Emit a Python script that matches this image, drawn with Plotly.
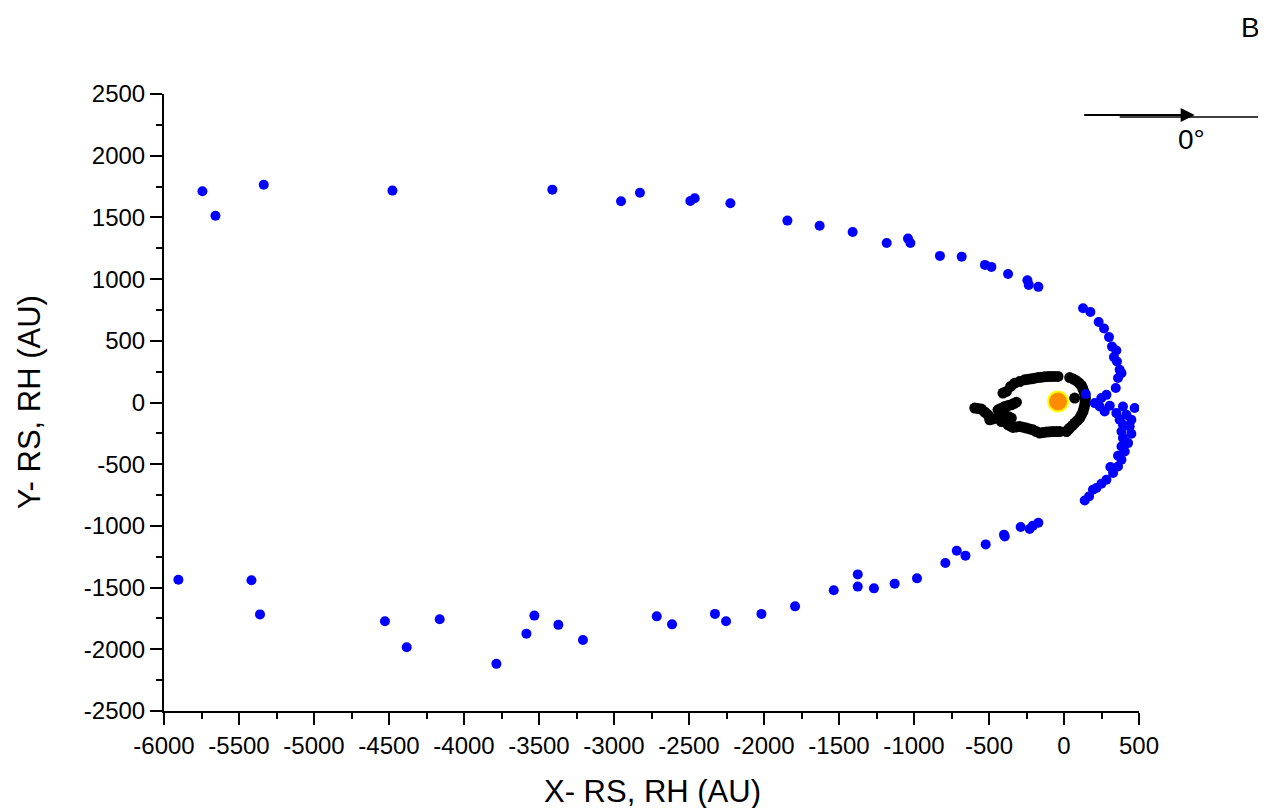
import plotly.graph_objects as go

# Blue points (X, Y in AU)
blue_x = [-5744, -5657, -5335, -4477, -3411, -2953, -2827, -2491, -2462, -2224,
          -1844, -1629, -1409, -1182, -1040, -1024, -827, -682, -527, -484,
          -373, -244, -235, -171,
          127, 176, 231, 267, 300, 320, 349, 333, 353, 371, 383, 360, 345, 145,
          283, 249, 205, 238, 305, 393, 471, 271, 349, 416, 371, 449, 393, 438,
          383, 449, 393, 427, 383, 405, 360, 383, 360, 309, 327, 283, 249, 216,
          193, 167, 138,
          -171, -207, -229, -289, -395, -400, -522, -657, -715, -791, -980,
          -1129, -1267, -1375, -1375, -1535, -1793, -2017, -2253, -2327, -2613,
          -2715,
          -5904, -5417, -5360, -4527, -4382, -4162, -3784, -3584, -3531, -3371,
          -3207]
blue_y = [1712, 1514, 1765, 1717, 1725, 1631, 1700, 1633, 1655, 1615,
          1474, 1433, 1382, 1293, 1328, 1293, 1188, 1182, 1115, 1099,
          1042, 991, 953, 937,
          764, 734, 653, 599, 530, 453, 421, 368, 332, 265, 238, 198, 117, 68,
          62, 36, -5, -32, -27, -32, -45, -73, -86, -100, -140, -140, -181, -194,
          -235, -253, -288, -329, -356, -397, -432, -464, -518, -523, -572, -626,
          -658, -693, -707, -761, -794,
          -974, -998, -1025, -1009, -1085, -1071, -1150, -1241, -1201, -1300,
          -1425, -1468, -1506, -1492, -1393, -1522, -1652, -1713, -1773, -1713,
          -1798, -1733,
          -1436, -1441, -1717, -1773, -1984, -1757, -2118, -1873, -1727, -1802,
          -1924]

# Black points (X, Y in AU)
black_x = [-407, -384, -356, -329, -295, -262, -240, -217, -195, -173, -151, -129,
           -106, -84, -62, -40,
           38, 62, 83, 100, 116, 125, 133, 140, 143, 141, 138, 133, 127, 116, 105,
           88, 71, 55, 38, 27, 16, 71,
           -29, -51, -73, -95, -117, -140, -162, -185, -207, -229, -251, -273,
           -295, -318, -340, -356, -373,
           -595, -573, -551, -529, -507, -495, -473, -451, -440, -417, -395, -373,
           -351, -334, -317, -395, -373, -351, -417]
black_y = [76, 90, 130, 157, 170, 184, 188, 192, 197, 202, 205, 208,
           210, 211, 211, 211,
           202, 190, 176, 158, 138, 114, 89, 62, 36, 8, -19, -46, -73, -100, -126,
           -147, -167, -188, -207, -221, -235, 36,
           -235, -235, -235, -238, -240, -244, -248, -235, -221, -214, -207, -200,
           -194, -198, -202, -191, -181,
           -45, -49, -53, -77, -100, -140, -133, -126, -59, -46, -32, -25,
           -19, -8, 3, -100, -113, -126, -154]

# Sun position
sun_x = [-40]
sun_y = [8]

x_ticks = [-6000, -5500, -5000, -4500, -4000, -3500, -3000, -2500, -2000,
           -1500, -1000, -500, 0, 500]
y_ticks = [-2500, -2000, -1500, -1000, -500, 0, 500, 1000, 1500, 2000, 2500]

FONT = "Liberation Sans, Arial, sans-serif"

fig = go.Figure()
fig.add_trace(go.Scatter(x=black_x, y=black_y, mode="markers",
                         marker=dict(color="black", size=11, line=dict(width=0)),
                         showlegend=False))
fig.add_trace(go.Scatter(x=blue_x, y=blue_y, mode="markers",
                         marker=dict(color="#0000FF", size=10, line=dict(width=0)),
                         showlegend=False))
fig.add_trace(go.Scatter(x=sun_x, y=sun_y, mode="markers",
                         marker=dict(color="#FF8C00", size=20,
                                     line=dict(color="#FFFF00", width=2)),
                         showlegend=False))

axis_common = dict(
    showline=True, linewidth=2, linecolor="black",
    showgrid=False, zeroline=False,
    ticks="outside", ticklen=12, tickwidth=2, tickcolor="black",
    tickfont=dict(family=FONT, size=24, color="black"),
    minor=dict(dtick=250, ticks="outside", ticklen=6, tickwidth=2, tickcolor="black"),
)

fig.update_xaxes(range=[-6000, 500], tickvals=x_ticks,
                 ticktext=[str(v) for v in x_ticks], tickangle=0, **axis_common)
fig.update_yaxes(range=[-2500, 2500], tickvals=y_ticks,
                 ticktext=[str(v) for v in y_ticks], **axis_common)

# page has an 8px body margin, so the figure is 8px smaller and shifted
fig.update_layout(
    width=1258, height=800,
    margin=dict(l=156, r=127, t=86, b=97, autoexpand=False),
    plot_bgcolor="white", paper_bgcolor="white",
    font=dict(family=FONT, color="black"),
    annotations=[
        dict(text="X- RS, RH (AU)", x=0.501, y=-0.13, xref="paper", yref="paper",
             showarrow=False, font=dict(size=31), xanchor="center", yanchor="middle"),
        dict(text="Y- RS, RH (AU)", x=-0.1377, y=0.5, xref="paper", yref="paper",
             showarrow=False, font=dict(size=31), textangle=-90,
             xanchor="center", yanchor="middle"),
        dict(text="B", x=1.1146, y=1.1085, xref="paper", yref="paper",
             showarrow=False, font=dict(size=28), xanchor="center", yanchor="middle"),
        dict(text="0°", x=1.054, y=0.9255, xref="paper", yref="paper",
             showarrow=False, font=dict(size=28), xanchor="center", yanchor="middle"),
        dict(text="", x=1.0571, y=0.966, xref="paper", yref="paper",
             showarrow=True, ax=-112, ay=0, arrowhead=2, arrowsize=1.4,
             arrowwidth=2, arrowcolor="black"),
    ],
    shapes=[
        dict(type="line", xref="paper", yref="paper", x0=0.9802, x1=1.1289,
             y0=0.9627, y1=0.9627, line=dict(color="black", width=1.5)),
    ],
)

fig.write_html("out.html")
